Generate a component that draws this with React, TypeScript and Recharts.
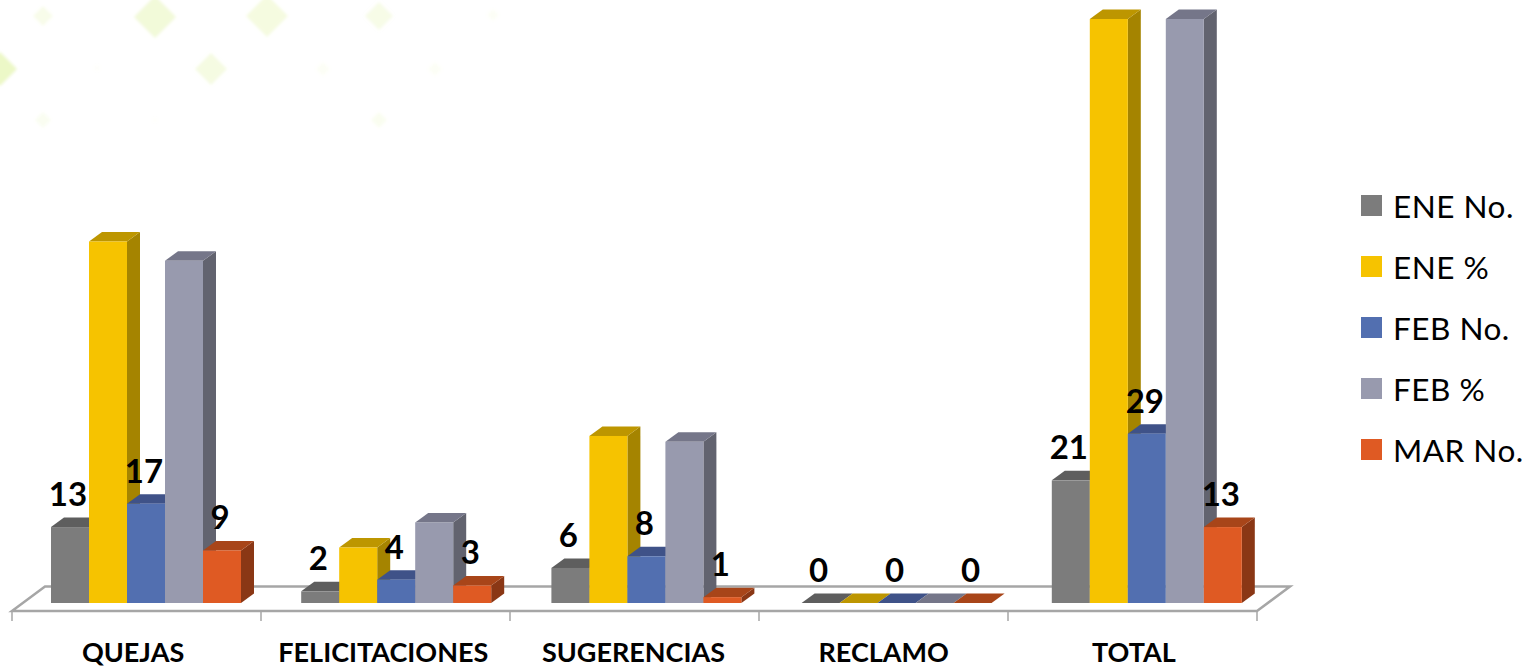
import React from "react";
import { BarChart, Bar, XAxis, YAxis, LabelList, Legend, ReferenceArea } from "recharts";

const categories = ["QUEJAS", "FELICITACIONES", "SUGERENCIAS", "RECLAMO", "TOTAL"];
const eneNo = [13, 2, 6, 0, 21];
const enePct = [61.9, 9.5, 28.6, 0, 100];
const febNo = [17, 4, 8, 0, 29];
const febPct = [58.6, 13.8, 27.6, 0, 100];
const marNo = [9, 3, 1, 0, 13];

const seriesNames = ["ENE No.", "ENE %", "FEB No.", "FEB %", "MAR No."];

const data = categories.map((name, i) => ({
  name,
  "ENE No.": eneNo[i],
  "ENE %": enePct[i],
  "FEB No.": febNo[i],
  "FEB %": febPct[i],
  "MAR No.": marNo[i],
}));

const FONT = "Lato, sans-serif";
const DEPTH_X = 13;
const DEPTH_Y = 9.5;

// front, top, side
const shades: Record<string, [string, string, string]> = {
  "ENE No.": ["#7c7c7c", "#5e5e5e", "#5a5a5a"],
  "ENE %": ["#f6c300", "#bd9600", "#a58400"],
  "FEB No.": ["#526fb0", "#3f5288", "#384a7a"],
  "FEB %": ["#989aae", "#757689", "#62636f"],
  "MAR No.": ["#df5a23", "#a84519", "#8a3715"],
};

// pale diamonds from the slide background: cx, cy, r, opacity
const diamonds = [
  [0, 69, 17, 0.75], [155, 17, 21, 0.5], [267, 16, 21, 0.42], [211, 69, 16, 0.38],
  [43, 16, 10, 0.28], [379, 16, 14, 0.32], [493, 15, 6, 0.12], [43, 120, 8, 0.18],
  [379, 120, 8, 0.2], [323, 69, 7, 0.12], [435, 69, 7, 0.12], [97, 68, 4, 0.05], [155, 120, 3, 0.05],
];

function makeBox(name: string) {
  const [front, top, side] = shades[name];
  return (props: any) => {
    const { x, y, width, height } = props;
    const h = height || 0;
    return (
      <g>
        <polygon
          points={`${x + width},${y} ${x + width + DEPTH_X},${y - DEPTH_Y} ${x + width + DEPTH_X},${y + h - DEPTH_Y} ${x + width},${y + h}`}
          fill={side}
        />
        <polygon
          points={`${x},${y} ${x + DEPTH_X},${y - DEPTH_Y} ${x + width + DEPTH_X},${y - DEPTH_Y} ${x + width},${y}`}
          fill={top}
        />
        <rect x={x} y={y} width={width} height={h} fill={front} />
      </g>
    );
  };
}

function Floor(props: any) {
  const { x, y, width, height } = props;
  const base = y + height;
  const left = x - 10;
  const right = x + width - 16;
  const step = (right - left) / categories.length;
  return (
    <g>
      <polygon
        points={`${left},${base + 8} ${left + 33},${base - 16.5} ${right + 33},${base - 16.5} ${right},${base + 8}`}
        fill="#ffffff"
        fillOpacity={0.6}
        stroke="#a6a6a6"
        strokeWidth={2.5}
      />
      {[0, 1, 2, 3, 4, 5].map((i) => (
        <line key={i} x1={left + i * step} x2={left + i * step} y1={base + 8} y2={base + 18} stroke="#a6a6a6" strokeWidth={1.5} />
      ))}
    </g>
  );
}

function CategoryTick(props: any) {
  const { x, payload } = props;
  return (
    <text x={x - 14} y={662} textAnchor="middle" fontFamily={FONT} fontWeight={700} fontSize={27} fill="#000">
      {payload.value}
    </text>
  );
}

function NumberLabel(props: any) {
  const { x, y, width, value } = props;
  return (
    <text x={x + width / 2 - 2} y={y - 21} textAnchor="middle" fontFamily={FONT} fontWeight={700} fontSize={33} fill="#000">
      {value}
    </text>
  );
}

function LegendBox() {
  return (
    <div style={{ fontFamily: FONT, fontSize: 31.5, letterSpacing: 0.5, color: "#000" }}>
      {seriesNames.map((name) => (
        <div key={name} style={{ display: "flex", alignItems: "center", height: 61 }}>
          <span style={{ width: 21, height: 21, background: shades[name][0], marginRight: 11 }} />
          <span style={{ whiteSpace: "nowrap" }}>{name}</span>
        </div>
      ))}
    </div>
  );
}

export default function App() {
  return (
    <div style={{ position: "absolute", left: 0, top: 0, width: 1538, height: 667, background: "#fff", overflow: "hidden" }}>
      <svg width={640} height={140} style={{ position: "absolute", left: 0, top: 0 }}>
        <defs>
          <filter id="soft"><feGaussianBlur stdDeviation="1.6" /></filter>
        </defs>
        {diamonds.map(([cx, cy, r, o], i) => (
          <polygon
            key={i}
            points={`${cx - r},${cy} ${cx},${cy - r} ${cx + r},${cy} ${cx},${cy + r}`}
            fill="#e6f5b4"
            fillOpacity={o}
            filter="url(#soft)"
          />
        ))}
      </svg>
      <div style={{ position: "absolute", left: 0, top: 0 }}>
        <BarChart
          width={1538}
          height={667}
          data={data}
          barCategoryGap={29}
          barGap={0}
          margin={{ top: 19, right: 88, bottom: 0, left: 22 }}
          style={{ background: "transparent" }}
        >
          <YAxis hide domain={[0, 100]} />
          <XAxis dataKey="name" height={64} axisLine={false} tickLine={false} interval={0} tick={<CategoryTick />} />
          <ReferenceArea y1={0} y2={100} ifOverflow="visible" shape={<Floor />} />
          <Legend
            layout="vertical"
            align="right"
            verticalAlign="top"
            content={<LegendBox />}
            wrapperStyle={{ position: "absolute", left: 1361, top: 175, width: 177 }}
          />
          <Bar dataKey="ENE No." isAnimationActive={false} shape={makeBox("ENE No.")}>
            <LabelList dataKey="ENE No." content={<NumberLabel />} />
          </Bar>
          <Bar dataKey="ENE %" isAnimationActive={false} shape={makeBox("ENE %")} />
          <Bar dataKey="FEB No." isAnimationActive={false} shape={makeBox("FEB No.")}>
            <LabelList dataKey="FEB No." content={<NumberLabel />} />
          </Bar>
          <Bar dataKey="FEB %" isAnimationActive={false} shape={makeBox("FEB %")} />
          <Bar dataKey="MAR No." isAnimationActive={false} shape={makeBox("MAR No.")}>
            <LabelList dataKey="MAR No." content={<NumberLabel />} />
          </Bar>
        </BarChart>
      </div>
    </div>
  );
}
